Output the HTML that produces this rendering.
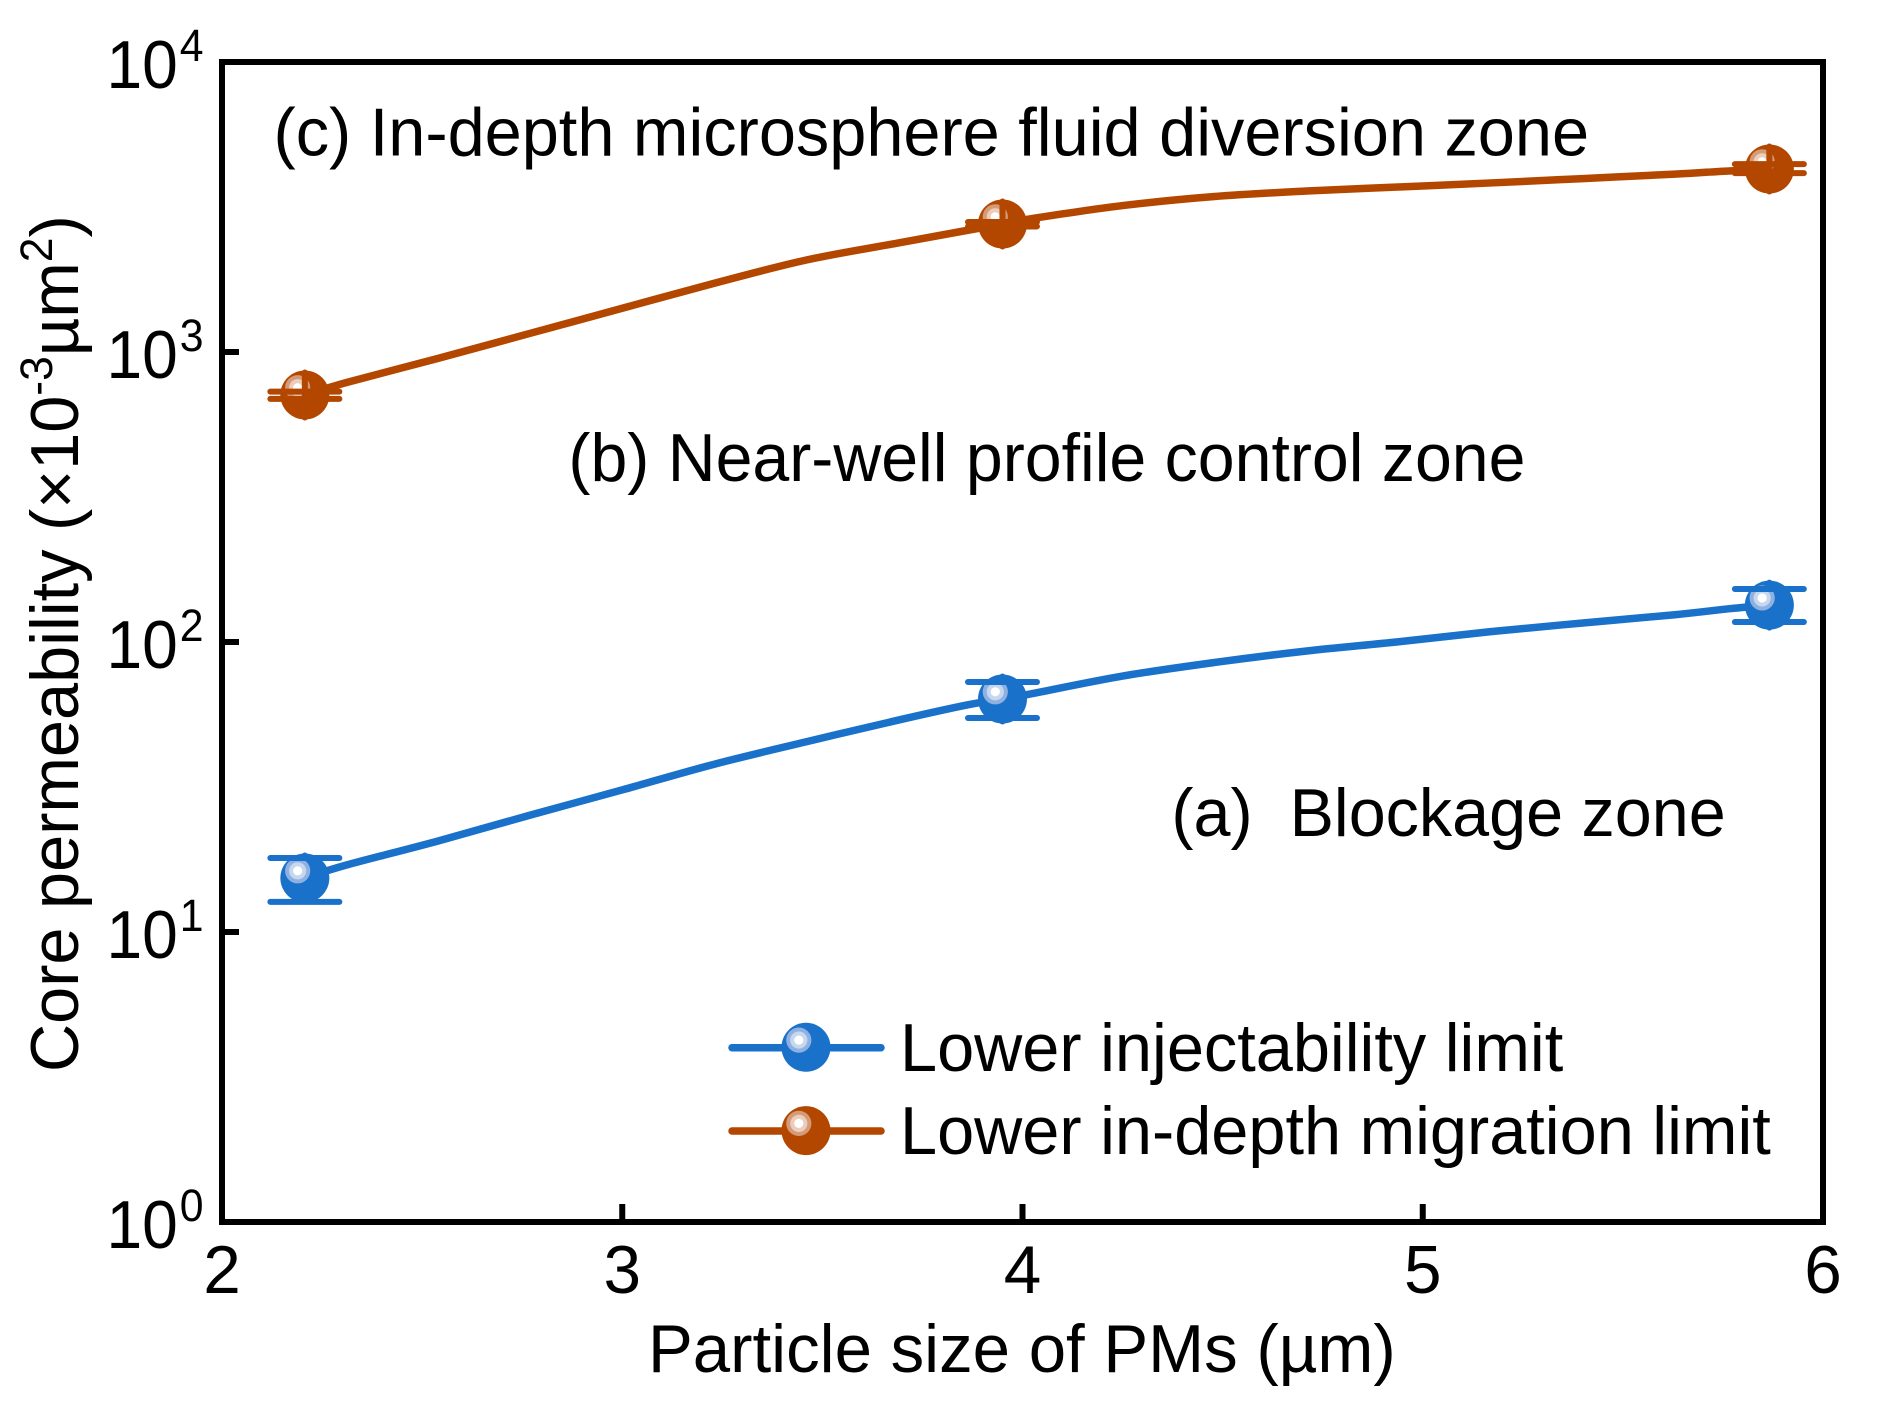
<!DOCTYPE html>
<html lang="en">
<head>
<meta charset="utf-8">
<title>Core permeability vs particle size</title>
<style>
html,body{margin:0;padding:0;background:#fff;}
svg{display:block;}
text{font-family:"Liberation Sans",Arial,sans-serif;fill:#000;white-space:pre;}
</style>
</head>
<body>
<svg id="chart" xmlns="http://www.w3.org/2000/svg" width="1877" height="1401" viewBox="0 0 1877 1401">
  <rect x="222" y="62" width="1601" height="1160" fill="none" stroke="#000" stroke-width="6" stroke-linejoin="miter"/>
  <g id="ticks"></g>
  <g id="series"></g>
  <text transform="translate(273.5 155.5) scale(.988 1)" font-size="67.5">(c) In-depth microsphere fluid diversion zone</text>
  <text transform="translate(568.4 481) scale(.9815 1)" font-size="67.5">(b) Near-well profile control zone</text>
  <text transform="translate(1171.4 836) scale(.985 1)" font-size="67.5">(a)  Blockage zone</text>
  <text transform="translate(648 1372) scale(.995 1)" font-size="67.5">Particle size of PMs (µm)</text>
  <text transform="translate(78 1072) rotate(-90) scale(.988 1)" font-size="67.5">Core permeability (×10<tspan font-size="45" dy="-26">-3</tspan><tspan dy="26">µm</tspan><tspan font-size="45" dy="-26">2</tspan><tspan dy="26">)</tspan></text>
  <g id="legend">
    <text transform="translate(900 1071) scale(.988 1)" font-size="67.5">Lower injectability limit</text>
    <text transform="translate(900 1154) scale(.988 1)" font-size="67.5">Lower in-depth migration limit</text>
  </g>
</svg>
<script>
// Axis ticks
const xTicks = [2, 3, 4, 5, 6];
const yTicks = [1, 10, 100, 1000, 10000];
const yTickExponents = ['0', '1', '2', '3', '4'];

// Measured points
const markerSizes = [2.207, 3.95, 5.866];
const injectValues = [15.35, 63.6, 134];
const injectUpper = [18.0, 72.8, 152.3];
const injectLower = [12.7, 54.7, 117.2];
const migrationValues = [711, 2763, 4276];
const migrationUpper = [730, 2807, 4446];
const migrationLower = [689, 2710, 4140];

// Fitted curves
const curveSizes = [2.207, 2.31, 2.54, 2.77, 3.00, 3.23, 3.46, 3.69, 3.86, 3.95, 4.02, 4.25, 4.48, 4.71, 4.94, 5.17, 5.40, 5.63, 5.77, 5.866];
const injectCurve = [15.35, 17.0, 20.6, 25.3, 30.9, 37.9, 45.3, 53.8, 60.6, 63.6, 66.2, 76.3, 85.0, 93.1, 100.2, 108.6, 116.3, 124.2, 130.4, 134];
const migrationCurve = [711, 784, 951, 1160, 1415, 1726, 2076, 2377, 2624, 2763, 2880, 3198, 3437, 3590, 3707, 3828, 3963, 4105, 4214, 4243];

const SVG_NS = 'http://www.w3.org/2000/svg';
const PLOT = { left: 222, right: 1823, top: 62, bottom: 1222 };
const X_MIN = 2, X_MAX = 6, LOG_MIN = 0, LOG_MAX = 4;

function xScale(v) {
  return PLOT.left + (v - X_MIN) / (X_MAX - X_MIN) * (PLOT.right - PLOT.left);
}
function yScale(v) {
  return PLOT.bottom - (Math.log10(v) - LOG_MIN) / (LOG_MAX - LOG_MIN) * (PLOT.bottom - PLOT.top);
}
function make(tag, parent) {
  const el = document.createElementNS(SVG_NS, tag);
  parent.appendChild(el);
  return el;
}
function setLine(el, x1, y1, x2, y2, color, width, cap) {
  el.setAttribute('x1', x1);
  el.setAttribute('y1', y1);
  el.setAttribute('x2', x2);
  el.setAttribute('y2', y2);
  el.setAttribute('stroke', color);
  el.setAttribute('stroke-width', width);
  el.setAttribute('stroke-linecap', cap);
}
function setCircle(el, cx, cy, r, fill) {
  el.setAttribute('cx', cx);
  el.setAttribute('cy', cy);
  el.setAttribute('r', r);
  el.setAttribute('fill', fill);
}
function drawBall(group, cx, cy, c) {
  const base = make('circle', group);
  
  
  setCircle(base, cx, cy, 24.5, c.base);
  const ringOuter = make('circle', group);
  
  
  setCircle(ringOuter, cx - 7.2, cy - 7.2, 12.6, c.mid);
  const ringInner = make('circle', group);
  
  
  setCircle(ringInner, cx - 7.2, cy - 7.2, 8.6, c.light);
  const core = make('circle', group);
  
  
  setCircle(core, cx - 7.2, cy - 7.2, 4.6, '#ffffff');
}
function drawCurve(group, values, color) {
  const pts = curveSizes.map((s, i) => [xScale(s), yScale(values[i])]);
  let d = 'M' + pts[0][0] + ' ' + pts[0][1];
  for (let i = 0; i < pts.length - 1; i++) {
    const p0 = pts[Math.max(i - 1, 0)];
    const p1 = pts[i];
    const p2 = pts[i + 1];
    const p3 = pts[Math.min(i + 2, pts.length - 1)];
    const c1x = p1[0] + (p2[0] - p0[0]) / 6;
    const c1y = p1[1] + (p2[1] - p0[1]) / 6;
    const c2x = p2[0] - (p3[0] - p1[0]) / 6;
    const c2y = p2[1] - (p3[1] - p1[1]) / 6;
    d += 'C' + c1x + ' ' + c1y + ' ' + c2x + ' ' + c2y + ' ' + p2[0] + ' ' + p2[1];
  }
  const line = make('path', group);
  
  
  line.setAttribute('d', d);
  line.setAttribute('fill', 'none');
  line.setAttribute('stroke', color);
  line.setAttribute('stroke-width', '7.5');
  line.setAttribute('stroke-linejoin', 'round');
}
function drawBar(group, cx, cy, color) {
  const bar = make('line', group);
  
  
  setLine(bar, cx, cy - 22.5, cx, cy + 22.5, color, 6, 'round');
}
function drawCaps(group, cx, yUp, yLow, color) {
  const capUp = make('line', group);
  
  
  setLine(capUp, cx - 34.5, yUp, cx + 34.5, yUp, color, 6, 'round');
  const capLow = make('line', group);
  
  
  setLine(capLow, cx - 34.5, yLow, cx + 34.5, yLow, color, 6, 'round');
}

// Ticks and tick labels
const tickGroup = document.getElementById('ticks');
xTicks.forEach(function (t, i) {
  const x = xScale(t);
  if (i > 0 && i < xTicks.length - 1) {
    const tick = make('line', tickGroup);
    
    
    setLine(tick, x, PLOT.bottom, x, PLOT.bottom - 18, '#000', 6, 'butt');
  }
  const label = make('text', tickGroup);
  
  
  label.setAttribute('x', x);
  label.setAttribute('y', 1293);
  label.setAttribute('font-size', '67.5');
  label.setAttribute('text-anchor', 'middle');
  label.textContent = String(t);
});
yTicks.forEach(function (t, i) {
  const y = yScale(t);
  if (i > 0 && i < yTicks.length - 1) {
    const tick = make('line', tickGroup);
    
    
    setLine(tick, PLOT.left, y, PLOT.left + 17, y, '#000', 6, 'butt');
  }
  const label = make('text', tickGroup);
  
  
  label.setAttribute('transform', 'translate(106.5 ' + (y + 26) + ') scale(.95 1)');
  label.setAttribute('font-size', '67.5');
  label.appendChild(document.createTextNode('10'));
  const sup = make('tspan', label);
  sup.setAttribute('font-size', '45');
  sup.setAttribute('dy', '-27');
  sup.setAttribute('dx', '2');
  sup.textContent = yTickExponents[i];
});

// Series
const seriesGroup = document.getElementById('series');
const BLUE = { base: '#1a71c9', mid: '#8fb1e1', light: '#c6d8ef' };
const ORANGE = { base: '#b34700', mid: '#d59b78', light: '#eccdbb' };

const injectGroup = make('g', seriesGroup);


drawCurve(injectGroup, injectCurve, BLUE.base);
markerSizes.forEach(function (s, i) {
  const cx = xScale(s), cy = yScale(injectValues[i]);
  drawBar(injectGroup, cx, cy, BLUE.base);
  drawBall(injectGroup, cx, cy, BLUE);
  drawCaps(injectGroup, cx, yScale(injectUpper[i]), yScale(injectLower[i]), BLUE.base);
});

const migrationGroup = make('g', seriesGroup);


markerSizes.forEach(function (s, i) {
  drawBall(migrationGroup, xScale(s), yScale(migrationValues[i]), ORANGE);
});
drawCurve(migrationGroup, migrationCurve, ORANGE.base);
markerSizes.forEach(function (s, i) {
  const cx = xScale(s), cy = yScale(migrationValues[i]);
  drawBar(migrationGroup, cx, cy, ORANGE.base);
  drawCaps(migrationGroup, cx, yScale(migrationUpper[i]), yScale(migrationLower[i]), ORANGE.base);
});

// Legend keys
const legend = document.getElementById('legend');
const keyBlue = make('g', legend);


const keyBlueLine = make('line', keyBlue);


setLine(keyBlueLine, 732, 1047.7, 881, 1047.7, BLUE.base, 7.5, 'round');
drawBall(keyBlue, 806, 1047.3, BLUE);
const keyOrange = make('g', legend);


const keyOrangeLine = make('line', keyOrange);


setLine(keyOrangeLine, 732, 1131, 881, 1131, ORANGE.base, 7.5, 'round');
drawBall(keyOrange, 806, 1130.6, ORANGE);
</script>
</body>
</html>
